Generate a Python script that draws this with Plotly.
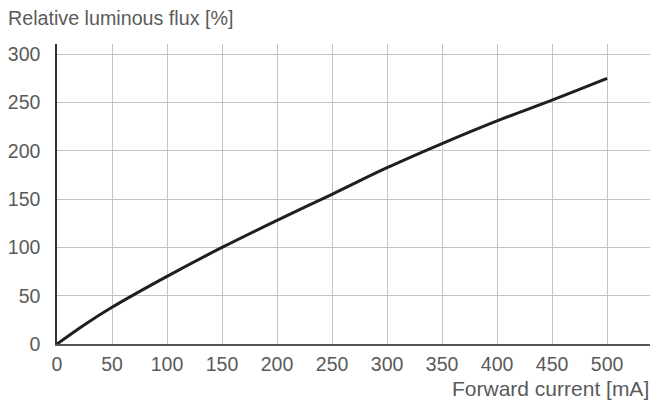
import plotly.graph_objects as go

# Forward current (mA) vs relative luminous flux (%)
current_ma = [0, 25, 50, 100, 150, 200, 250, 300, 350, 400, 450, 500]
flux_pct = [0, 20, 38, 70, 100, 128, 155, 182.5, 207.5, 231, 252.5, 275]

x_ticks = [0, 50, 100, 150, 200, 250, 300, 350, 400, 450, 500]
y_ticks = [0, 50, 100, 150, 200, 250, 300]

FONT = "Liberation Sans, Arial, Helvetica, sans-serif"
TEXT = "#5a5a5a"
GRID = "#c4c4c4"

fig = go.Figure()
fig.add_trace(go.Scatter(
    x=current_ma, y=flux_pct, mode="lines",
    line=dict(color="#1f1f1f", width=3, shape="spline", smoothing=1.0),
    hoverinfo="skip", showlegend=False,
))

fig.update_layout(
    width=650, height=405,
    margin=dict(l=57, r=0, t=44, b=61),
    paper_bgcolor="white", plot_bgcolor="white",
    font=dict(family=FONT, color=TEXT, size=19),
    xaxis=dict(
        range=[0, 539], tickvals=x_ticks, ticktext=[str(v) for v in x_ticks],
        showgrid=True, gridcolor=GRID, gridwidth=1,
        showline=True, linecolor="#555555", linewidth=1.5,
        zeroline=False, ticks="", ticklabelstandoff=2,
        tickfont=dict(size=19.5, color=TEXT),
    ),
    yaxis=dict(
        range=[0, 310.6], tickvals=y_ticks, ticktext=[str(v) for v in y_ticks],
        showgrid=True, gridcolor=GRID, gridwidth=1,
        showline=True, linecolor="#333333", linewidth=1.5,
        zeroline=False, ticks="", ticklabelstandoff=11,
        tickfont=dict(size=19.5, color=TEXT),
    ),
    annotations=[
        dict(text="Relative luminous flux [%]", xref="paper", yref="paper",
             x=-51 / 593, y=(344 - 18) / 300, xanchor="left", yanchor="middle",
             showarrow=False, font=dict(size=19.7, color=TEXT)),
        dict(text="Forward current [mA]", xref="paper", yref="paper",
             x=(651 - 57) / 593, y=(344 - 388) / 300, xanchor="right", yanchor="middle",
             showarrow=False, font=dict(size=21, color=TEXT)),
    ],
)

fig.write_html("out.html")
